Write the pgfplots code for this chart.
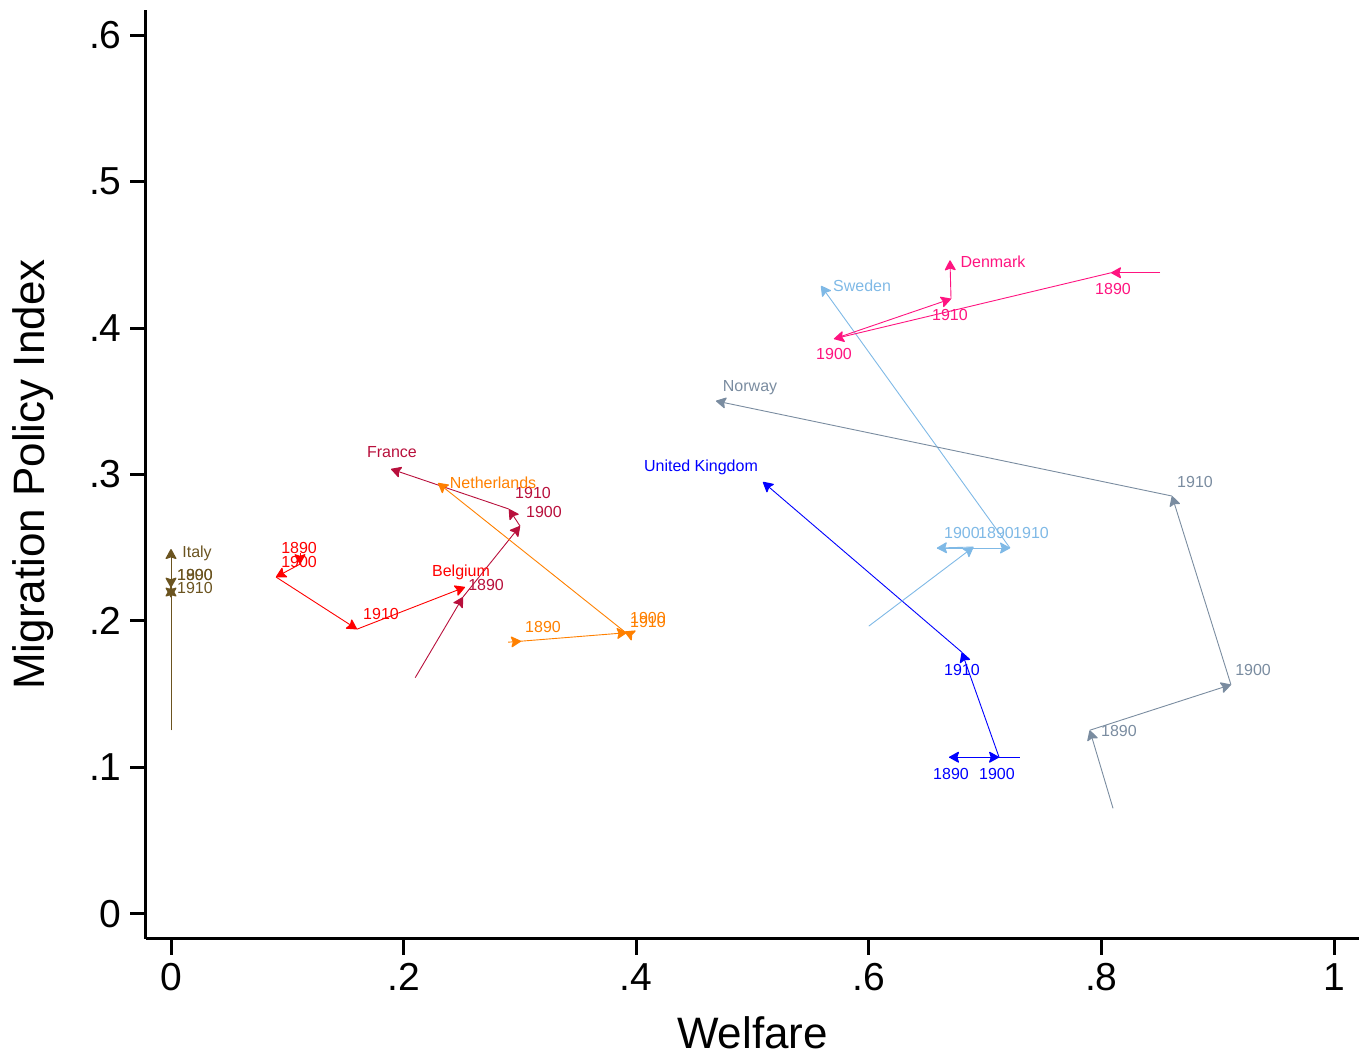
\documentclass[border=0pt]{standalone}
\usepackage{fontspec}
\setmainfont{Liberation Sans}
\usepackage{pgfplots}
\pgfplotsset{compat=1.18}
\usetikzlibrary{arrows.meta}
\definecolor{cItaly}{HTML}{6B5420}
\definecolor{cBelgium}{HTML}{FF0000}
\definecolor{cFrance}{HTML}{B8103C}
\definecolor{cNether}{HTML}{FF8000}
\definecolor{cUK}{HTML}{0000FF}
\definecolor{cSweden}{HTML}{7FB9E6}
\definecolor{cNorway}{HTML}{7A8CA0}
\definecolor{cDenmark}{HTML}{FF1480}
\newcommand\lab{\fontsize{8}{9.6}\selectfont}
\pgfplotsset{
  arr/.style={#1, line width=0.45pt, -{Stealth[length=5.5pt,width=6pt,inset=1pt,round,line width=0.6pt]},
    quiver={u=\thisrow{u}, v=\thisrow{v}}},
  labs/.style={only marks, mark=none, nodes near coords,
    point meta=explicit symbolic,
    nodes near coords style={anchor=base, inner sep=0pt, font=\lab, text=#1}},
}
\begin{document}
\begin{tikzpicture}
\path[use as bounding box] (-73pt,-60pt) rectangle (607.5pt,469.5pt);
\begin{axis}[
  scale only axis, width=606.5pt, height=464.5pt,
  xmin=-0.0215, xmax=1.0215, ymin=-0.0171, ymax=0.6171,
  axis x line*=bottom, axis y line*=left,
  axis line style={line width=1.5pt, black},
  tick align=outside, major tick length=8pt,
  tick style={black, line width=1.5pt},
  xtick={0,0.2,0.4,0.6,0.8,1}, xticklabels={0,.2,.4,.6,.8,1},
  ytick={0,0.1,0.2,0.3,0.4,0.5,0.6}, yticklabels={0,.1,.2,.3,.4,.5,.6},
  tick label style={font=\fontsize{19.5}{22}\selectfont},
  xticklabel style={inner sep=4pt}, yticklabel style={inner sep=4pt},
  xlabel={Welfare}, ylabel={Migration Policy Index},
  label style={font=\fontsize{22}{26}\selectfont},
  xlabel style={at={(axis description cs:0.5,-0.1184)}, anchor=base},
  ylabel style={at={(axis description cs:-0.0833,0.5)}, anchor=base},
  clip=false,
]
% Italy
\addplot[arr=cItaly] table {
x y u v
0 0.1254 0 0.0981
0 0.2235 0 -0.0007
0 0.2228 0 -0.0068
0 0.2160 0 0.0331
};
\addplot[labs=cItaly] table[meta=t, col sep=comma] {
x,y,t
0.0224,0.2436,Italy
0.0206,0.2279,1890
0.0206,0.2279,1900
0.0206,0.2190,1910
};
% Belgium
\addplot[arr=cBelgium] table {
x y u v
0.1109 0.2464 0 -0.0076
0.1109 0.2388 -0.0206 -0.0088
0.0903 0.2300 0.0696 -0.0356
0.1599 0.1944 0.0929 0.0287
};
\addplot[labs=cBelgium] table[meta=t, col sep=comma] {
x,y,t
0.1101,0.2464,1890
0.1101,0.2368,1900
0.1806,0.2013,1910
0.2494,0.2306,Belgium
};
% France
\addplot[arr=cFrance] table {
x y u v
0.210 0.1613 0.041 0.0550
0.251 0.2163 0.0491 0.0485
0.3001 0.2648 -0.0095 0.0116
0.2906 0.2764 -0.1014 0.0273
};
\addplot[labs=cFrance] table[meta=t, col sep=comma] {
x,y,t
0.2709,0.2211,1890
0.3207,0.2703,1900
0.3113,0.2839,1910
0.1900,0.3113,France
};
% Netherlands
\addplot[arr=cNether] table {
x y u v
0.2898 0.1855 0.0112 0.0007
0.301 0.1862 0.091 0.0058
0.392 0.1920 -0.002 0.0007
0.390 0.1927 -0.1604 0.1015
};
\addplot[labs=cNether] table[meta=t, col sep=comma] {
x,y,t
0.3199,0.1924,1890
0.4101,0.1985,1900
0.4101,0.1958,1910
0.2769,0.2901,Netherlands
};
% United Kingdom
\addplot[arr=cUK] table {
x y u v
0.730 0.1070 -0.061 0
0.669 0.1070 0.043 0
0.712 0.1070 -0.032 0.0717
0.680 0.1787 -0.171 0.1162
};
\addplot[labs=cUK] table[meta=t, col sep=comma] {
x,y,t
0.6707,0.0919,1890
0.7102,0.0919,1900
0.6801,0.1630,1910
0.4557,0.3017,United Kingdom
};
% Sweden
\addplot[arr=cSweden] table {
x y u v
0.600 0.1965 0.090 0.0540
0.690 0.2505 -0.0314 -0.0007
0.6586 0.2498 0.0628 0
0.7214 0.2498 -0.1625 0.1790
};
\addplot[labs=cSweden] table[meta=t, col sep=comma] {
x,y,t
0.6801,0.2566,1900
0.7094,0.2566,1890
0.7395,0.2566,1910
0.5942,0.4247,Sweden
};
% Norway
\addplot[arr=cNorway] table {
x y u v
0.810 0.0721 -0.020 0.0533
0.790 0.1254 0.1214 0.0311
0.9114 0.1565 -0.0507 0.1288
0.8607 0.2853 -0.3921 0.0649
};
\addplot[labs=cNorway] table[meta=t, col sep=comma] {
x,y,t
0.8151,0.1213,1890
0.9304,0.1630,1900
0.8805,0.2908,1910
0.4979,0.3564,Norway
};
% Denmark
\addplot[arr=cDenmark] table {
x y u v
0.8504 0.4377 -0.0421 0
0.8083 0.4377 -0.2382 -0.0451
0.5701 0.3926 0.1006 0.0273
0.6707 0.4199 -0.0009 0.0263
};
\addplot[labs=cDenmark] table[meta=t, col sep=comma] {
x,y,t
0.8100,0.4227,1890
0.5701,0.3783,1900
0.6698,0.4049,1910
0.7068,0.4411,Denmark
};
\end{axis}
\end{tikzpicture}
\end{document}
